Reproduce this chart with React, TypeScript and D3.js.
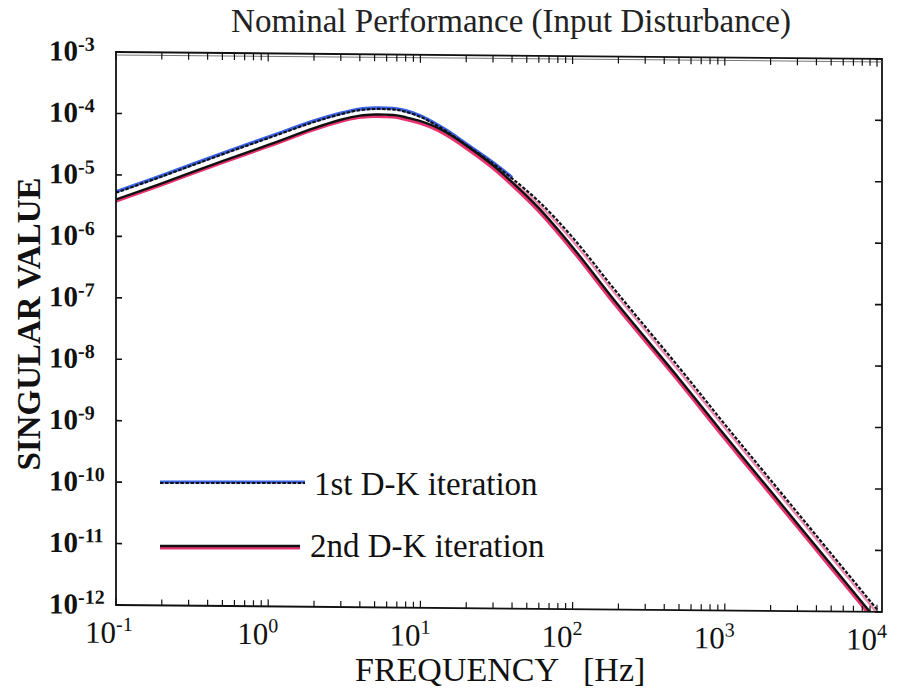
import React from 'react';
import * as d3 from 'd3';

// Frequencies [Hz] at which the singular value curves were read
const FREQ_HZ = [0.1, 0.2, 0.5, 1, 2, 3, 4, 5, 6, 7, 8, 10, 12, 15, 20, 30, 40, 60, 100, 200, 500, 1000, 2000, 5000, 10000];
// log10 of singular value, 1st D-K iteration
const ITER1_EXP = [-5.29, -5.02, -4.65, -4.38, -4.11, -3.98, -3.91, -3.89, -3.89, -3.9, -3.93, -4.01, -4.11, -4.25, -4.46, -4.76, -5.0, -5.37, -5.95, -6.87, -8.05, -8.97, -9.87, -11.06, -11.96];
// log10 of singular value, 2nd D-K iteration
const ITER2_EXP = [-5.4, -5.13, -4.76, -4.49, -4.21, -4.07, -4.0, -3.98, -3.98, -3.99, -4.02, -4.08, -4.15, -4.27, -4.47, -4.79, -5.06, -5.48, -6.11, -7.05, -8.23, -9.15, -10.05, -11.24, -12.14];

const X_DECADES = [-1, 0, 1, 2, 3, 4];
const Y_DECADES = [-3, -4, -5, -6, -7, -8, -9, -10, -11, -12];
const MINOR_STEPS = [2, 3, 4, 5, 6, 7, 8, 9];

const TITLE = 'Nominal Performance (Input Disturbance)';
const X_TITLE = 'FREQUENCY';
const X_UNIT = '[Hz]';
const Y_TITLE = 'SINGULAR VALUE';
const LEGEND_LABELS = ['1st D-K iteration', '2nd D-K iteration'];

const SERIF = '"Liberation Serif", "DejaVu Serif", serif';
const BLUE = '#3a62e6';
const MAGENTA = '#e8336e';

export default function App() {
  const L = 116, R = 882, T = 52, B = 605;
  const x = d3.scaleLog().domain([0.1, 1e4]).range([116, 877]);
  const y = d3.scaleLog().domain([1e-12, 1e-3]).range([B, T]);
  const k = 0.009;
  const skew = `matrix(1, ${k}, 0, 1, 0, ${-k * L})`;

  const s1 = FREQ_HZ.map((f, i) => [f, Math.pow(10, ITER1_EXP[i])] as [number, number]);
  const s2 = FREQ_HZ.map((f, i) => [f, Math.pow(10, ITER2_EXP[i])] as [number, number]);
  const line = d3.line<[number, number]>()
    .x(d => x(d[0]))
    .y(d => y(d[1]))
    .curve(d3.curveCatmullRom.alpha(0.5));

  const p1 = line(s1) || '';
  const p1low = line(s1.filter(d => d[0] <= 40)) || '';
  const p1high = line(s1.filter(d => d[0] >= 20)) || '';
  const p2 = line(s2) || '';

  const minorTicks: number[] = [];
  X_DECADES.slice(0, -1).forEach(d => MINOR_STEPS.forEach(m => minorTicks.push(m * Math.pow(10, d))));

  return (
    <div style={{ position: 'absolute', left: 0, top: 0 }}>
      <svg width={908} height={693} style={{ display: 'block', background: '#fff' }}>
        <defs>
          <clipPath id="plotclip">
            <rect x={L} y={T} width={R - L} height={B - T} />
          </clipPath>
        </defs>

        <text x={511} y={32} textAnchor="middle" fontFamily={SERIF} fontSize={33} fill="#222">{TITLE}</text>

        <g transform={skew}>
          {/* curves */}
          <g clipPath="url(#plotclip)" fill="none" strokeLinejoin="round">
            <path d={p1high} stroke="#f08ab4" strokeWidth={2.2} transform="translate(-1.6,1.6)" />
            <path d={p2} stroke={MAGENTA} strokeWidth={3} transform="translate(-1.2,2)" />
            <path d={p1low} stroke={BLUE} strokeWidth={3.4} transform="translate(0,-1)" />
            <path d={p2} stroke="#111" strokeWidth={2.4} />
            <path d={p1} stroke="#111" strokeWidth={2.2} strokeDasharray="3.5,1.6" />
          </g>

          {/* frame */}
          <rect x={L} y={T} width={R - L} height={B - T} fill="none" stroke="#111" strokeWidth={1.8} />
          <line x1={L} x2={R} y1={T + 3} y2={T + 3} stroke="#777" strokeWidth={1} />

          {/* x ticks: bottom (up) and top (down) */}
          {minorTicks.map((f, i) => (
            <g key={'mt' + i} stroke="#111" strokeWidth={1.2}>
              <line x1={x(f)} x2={x(f)} y1={B} y2={B - 6} />
              <line x1={x(f)} x2={x(f)} y1={T} y2={T + 7} />
            </g>
          ))}
          {X_DECADES.map(d => (
            <g key={'xt' + d} stroke="#111" strokeWidth={1.2}>
              <line x1={x(Math.pow(10, d))} x2={x(Math.pow(10, d))} y1={B} y2={B - 7} />
              <line x1={x(Math.pow(10, d))} x2={x(Math.pow(10, d))} y1={T} y2={T + 8} />
            </g>
          ))}

          {/* y ticks: left (right) and right (left) */}
          {Y_DECADES.map(d => (
            <g key={'yt' + d} stroke="#111" strokeWidth={1.6}>
              <line x1={L} x2={L + 6} y1={y(Math.pow(10, d))} y2={y(Math.pow(10, d))} />
              <line x1={R} x2={R - 7} y1={y(Math.pow(10, d))} y2={y(Math.pow(10, d))} />
            </g>
          ))}

          {/* x tick labels */}
          {X_DECADES.map(d => (
            <text key={'xl' + d} x={x(Math.pow(10, d)) - 31} y={643} fontFamily={SERIF} fontSize={31} fill="#111">
              10<tspan fontSize={20} dy={-12}>{d}</tspan>
            </text>
          ))}

          {/* y tick labels */}
          {Y_DECADES.map(d => (
            <text key={'yl' + d} x={49} y={y(Math.pow(10, d)) + 9} fontFamily={SERIF} fontSize={29} fontWeight="bold" fill="#111">
              10<tspan fontSize={20} dy={-10}>{'-' + Math.abs(d)}</tspan>
            </text>
          ))}
        </g>

        {/* legend */}
        <g fill="none">
          <line x1={160} x2={305} y1={482} y2={482} stroke={BLUE} strokeWidth={3.2} />
          <line x1={160} x2={305} y1={483} y2={483} stroke="#111" strokeWidth={2} strokeDasharray="3.5,1.6" />
          <line x1={160} x2={300} y1={548} y2={548} stroke={MAGENTA} strokeWidth={3} />
          <line x1={160} x2={300} y1={546} y2={546} stroke="#111" strokeWidth={2.4} />
        </g>
        <text x={314} y={495} fontFamily={SERIF} fontSize={33} fill="#111">{LEGEND_LABELS[0]}</text>
        <text x={310} y={557} fontFamily={SERIF} fontSize={33} fill="#111">{LEGEND_LABELS[1]}</text>

        {/* axis titles */}
        <text x={355} y={681} fontFamily={SERIF} fontSize={34} fill="#111">
          {X_TITLE}<tspan dx={24}>{X_UNIT}</tspan>
        </text>
        <text transform="translate(40,324) rotate(-90)" textAnchor="middle" fontFamily={SERIF} fontSize={33} fontWeight="bold" fill="#111">{Y_TITLE}</text>
      </svg>
    </div>
  );
}
